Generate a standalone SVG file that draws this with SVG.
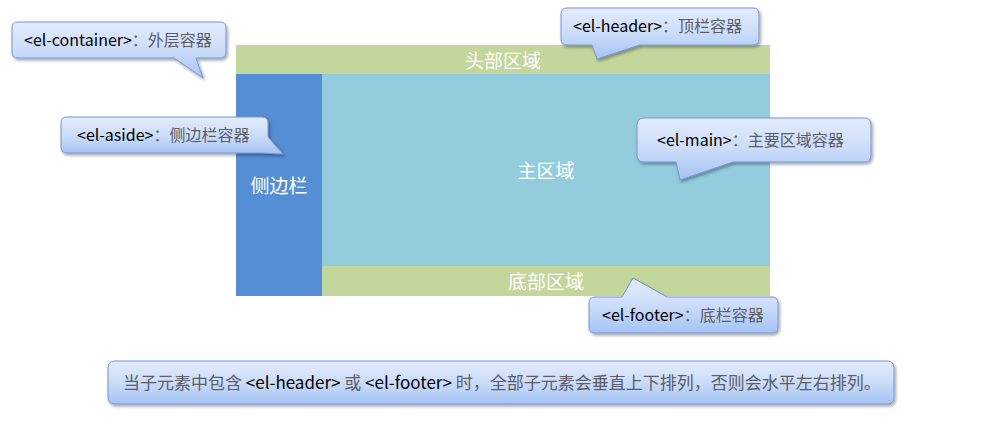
<svg xmlns="http://www.w3.org/2000/svg" width="991" height="423" viewBox="0 0 991 423">
<defs>
<linearGradient id="cg" x1="0" y1="0" x2="0" y2="1">
<stop offset="0" stop-color="#e3ecfd"/>
<stop offset="0.5" stop-color="#cbdcf9"/>
<stop offset="1" stop-color="#a6c3f4"/>
</linearGradient>
<filter id="sh" x="-10%" y="-20%" width="120%" height="150%">
<feDropShadow dx="1.5" dy="2" stdDeviation="1.5" flood-color="#000" flood-opacity="0.35"/>
</filter>
</defs>
<style>
.bub{fill:url(#cg);stroke:#7396d4;stroke-width:1;filter:url(#sh)}
.t{font-family:"Noto Sans CJK SC","Noto Sans",sans-serif;font-size:16px;fill:#000}
.n{font-size:17px}
.g{fill:#5d5d66}
.lbl{font-family:"Noto Sans CJK SC","Noto Sans",sans-serif;font-size:19px;fill:#fff;text-anchor:middle}
</style>
<rect width="991" height="423" fill="#fff"/>
<g id="header"><rect x="236" y="45" width="534" height="29" fill="#c3d69b"/><text class="lbl" x="503" y="68">头部区域</text></g>
<g id="aside"><rect x="236" y="74" width="86" height="222" fill="#558ed5"/><text class="lbl" x="279" y="193">侧边栏</text></g>
<g id="main"><rect x="322" y="74" width="448" height="192" fill="#93cddd"/><text class="lbl" x="546" y="178">主区域</text></g>
<g id="footer"><rect x="322" y="266" width="448" height="30" fill="#c3d69b"/><text class="lbl" x="546" y="289">底部区域</text></g>
<g id="connectors">
<g id="callout-container"><path class="bub" d="M18,22 H220 Q226,22 226,28 V52 Q226,58 220,58 H196 L203,78 L174,58 H18 Q12,58 12,52 V28 Q12,22 18,22 Z"/><text class="t" x="24" y="46">&lt;el-container&gt;<tspan class="g">：外层容器</tspan></text></g>
<g id="callout-header"><path class="bub" d="M567,8 H753 Q759,8 759,14 V39 Q759,45 753,45 H640 L597,59 L592,45 H567 Q561,45 561,39 V14 Q561,8 567,8 Z"/><text class="t" x="573" y="32">&lt;el-header&gt;<tspan class="g">：顶栏容器</tspan></text></g>
<g id="callout-aside"><path class="bub" d="M67,117 H262 Q268,117 268,123 V137 L283,154 L262,153 H67 Q61,153 61,147 V123 Q61,117 67,117 Z"/><text class="t" x="77" y="141">&lt;el-aside&gt;<tspan class="g">：侧边栏容器</tspan></text></g>
<g id="callout-main"><path class="bub" d="M644,118 H865 Q871,118 871,125 V155 Q871,162 865,162 H733 L680,180 L676,162 H644 Q637,162 637,155 V125 Q637,118 644,118 Z"/><text class="t" x="657" y="146">&lt;el-main&gt;<tspan class="g">：主要区域容器</tspan></text></g>
<g id="callout-footer"><path class="bub" d="M595,297 H622 L633,278 L667,297 H772 Q778,297 778,303 V327 Q778,333 772,333 H595 Q589,333 589,327 V303 Q589,297 595,297 Z"/><text class="t" x="602" y="321">&lt;el-footer&gt;<tspan class="g">：底栏容器</tspan></text></g>
</g>
<g id="note"><rect class="bub" x="108" y="361" width="786" height="43" rx="6"/><text class="t n" x="123" y="389"><tspan class="g">当子元素中包含 </tspan>&lt;el-header&gt;<tspan class="g"> 或 </tspan>&lt;el-footer&gt;<tspan class="g"> 时，全部子元素会垂直上下排列，否则会水平左右排列。</tspan></text></g>
</svg>
